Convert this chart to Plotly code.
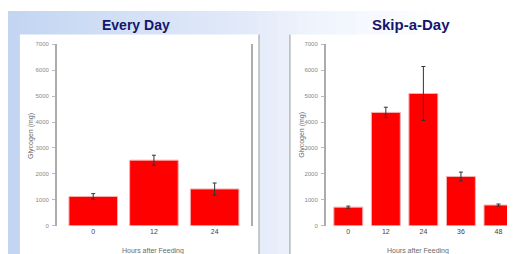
import plotly.graph_objects as go

# ---- data ----
every_day_hours = ["0", "12", "24"]
every_day_values = [1130, 2530, 1420]
every_day_errors = [110, 190, 230]

skip_day_hours = ["0", "12", "24", "36", "48"]
skip_day_values = [720, 4370, 5100, 1900, 800]
skip_day_errors = [40, 200, 1040, 170, 40]

y_ticks = [0, 1000, 2000, 3000, 4000, 5000, 6000, 7000]

W, H = 515, 254

fig = go.Figure()

fig.add_trace(go.Bar(
    x=every_day_hours, y=every_day_values, width=0.8,
    error_y=dict(type="data", array=every_day_errors, color="#333333", thickness=1, width=2),
    marker=dict(color="#ff0000", line=dict(color="#f4b0b0", width=1)),
    xaxis="x", yaxis="y", showlegend=False))

fig.add_trace(go.Bar(
    x=skip_day_hours, y=skip_day_values, width=0.77,
    error_y=dict(type="data", array=skip_day_errors, color="#333333", thickness=1, width=2),
    marker=dict(color="#ff0000", line=dict(color="#f4b0b0", width=1)),
    xaxis="x2", yaxis="y2", showlegend=False))

ydom = [1 - 220 / H, 1 - 34 / H]
tickfont_y = dict(family="Liberation Sans, Arial", size=6, color="#888888")
tickfont_x = dict(family="Liberation Sans, Arial", size=7, color="#444444")

common_y = dict(range=[0, 7000], tickvals=y_ticks, showgrid=False, zeroline=False,
                showline=True, linecolor="#acacac", linewidth=1.5, mirror=True,
                ticks="outside", ticklen=3, tickcolor="#bbbbbb", tickfont=tickfont_y,
                ticklabelstandoff=2)
common_x = dict(type="category", showgrid=False, zeroline=False, showline=False,
                ticks="", tickfont=tickfont_x)

fig.update_layout(
    width=W, height=H,
    margin=dict(l=0, r=0, t=0, b=0),
    paper_bgcolor="#ffffff", plot_bgcolor="rgba(0,0,0,0)",
    xaxis=dict(domain=[49 / W, 244 / W], range=[-0.6, 2.6], anchor="y", **common_x),
    yaxis=dict(domain=ydom, anchor="x", **common_y),
    xaxis2=dict(domain=[319 / W, 1.0], range=[-0.6, 4.6], anchor="y2", **common_x),
    yaxis2=dict(domain=ydom, anchor="x2", **common_y),
)

# ---- background gradient (slide) ----
stops = [(0, (194, 213, 241)), (130, (212, 225, 246)), (250, (228, 235, 250)),
         (300, (238, 243, 252)), (440, (255, 255, 255)), (515, (255, 255, 255))]

def col_at(x):
    for (x0, c0), (x1, c1) in zip(stops[:-1], stops[1:]):
        if x0 <= x <= x1:
            t = (x - x0) / (x1 - x0) if x1 > x0 else 0
            return "rgb(%d,%d,%d)" % tuple(round(a + (b - a) * t) for a, b in zip(c0, c1))
    return "rgb(255,255,255)"

shapes = []
step = 10
for xs in range(0, W, step):
    shapes.append(dict(type="rect", xref="paper", yref="paper", layer="below",
                       x0=xs / W, x1=min(xs + step + 1, W) / W, y0=0, y1=1,
                       line=dict(width=0), fillcolor=col_at(xs + step / 2)))
# white panels
shapes.append(dict(type="rect", xref="paper", yref="paper", layer="below",
                   x0=12 / W, x1=252 / W, y0=0, y1=1 - 24 / H,
                   line=dict(width=0), fillcolor="#ffffff"))
shapes.append(dict(type="rect", xref="paper", yref="paper", layer="below",
                   x0=283 / W, x1=1, y0=0, y1=1 - 24 / H,
                   line=dict(width=0), fillcolor="#ffffff"))
# panel edge lines
for xl in (252, 283):
    shapes.append(dict(type="line", xref="paper", yref="paper", layer="below",
                       x0=xl / W, x1=xl / W, y0=0, y1=1 - 24 / H,
                       line=dict(color="#b8b8b8", width=1.5)))
fig.update_layout(shapes=shapes)

title_font = dict(family="Liberation Sans, Arial", size=14, color="#15156e")
title_font2 = dict(family="Liberation Sans, Arial", size=15, color="#15156e")
small_font = dict(family="Liberation Sans, Arial", size=7, color="#6a6a6a")
ann = [
    dict(text="<b>Every Day</b>", x=128 / W, y=1 - 14 / H, xref="paper", yref="paper",
         showarrow=False, font=title_font, xanchor="center", yanchor="middle"),
    dict(text="<b>Skip-a-Day</b>", x=405 / W, y=1 - 14 / H, xref="paper", yref="paper",
         showarrow=False, font=title_font2, xanchor="center", yanchor="middle"),
    dict(text="Glycogen (mg)", x=23 / W, y=1 - 128 / H, xref="paper", yref="paper",
         showarrow=False, font=small_font, textangle=-90, xanchor="center", yanchor="middle"),
    dict(text="Glycogen (mg)", x=295 / W, y=1 - 127 / H, xref="paper", yref="paper",
         showarrow=False, font=small_font, textangle=-90, xanchor="center", yanchor="middle"),
    dict(text="Hours after Feeding", x=146 / W, y=1 - 246 / H, xref="paper", yref="paper",
         showarrow=False, font=small_font, xanchor="center", yanchor="middle"),
    dict(text="Hours after Feeding", x=412 / W, y=1 - 246 / H, xref="paper", yref="paper",
         showarrow=False, font=small_font, xanchor="center", yanchor="middle"),
]
fig.update_layout(annotations=ann)

fig.write_html("out.html")
